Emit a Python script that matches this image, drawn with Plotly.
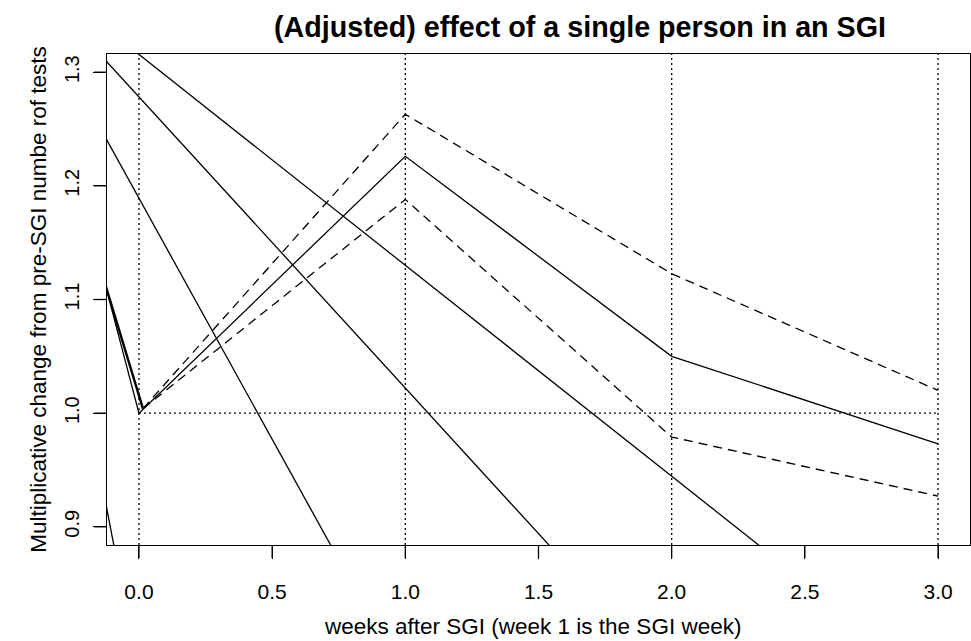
import plotly.graph_objects as go

# ---- data ----
weeks = [0, 1, 2, 3]
estimate = [1.0, 1.226, 1.05, 0.973]
upper_ci = [1.263, 1.1227, 1.020]
lower_ci = [1.188, 0.979, 0.927]
ci_weeks = [1, 2, 3]
ci_start_x = 0.015
ci_start_y = 1.004
estimate_prev_x = -1
estimate_prev_y = 1.894
thick_prev_y = 1.788

fan_origin_x = -0.53
fan_origin_y = 1.414
fan_end_x = [0, 1, 2, 3]
fan_end_y = [0.769, 0.765, 0.766, 0.759]

ref_level = 1.0
vlines = [0, 1, 2, 3]
xticks = [0.0, 0.5, 1.0, 1.5, 2.0, 2.5, 3.0]
xticklabels = ["0.0", "0.5", "1.0", "1.5", "2.0", "2.5", "3.0"]
yticks = [0.9, 1.0, 1.1, 1.2, 1.3]
yticklabels = ["0.9", "1.0", "1.1", "1.2", "1.3"]

FONT = "Liberation Sans, Arial, Helvetica, sans-serif"
LW = 1.3
W, H = 971, 641
L, R, T, B = 107, 1, 54, 96
TICKLEN = 13
PLOT_W = W - L - R
PLOT_H = H - T - B

fig = go.Figure()

# fan of straight lines
for ex, ey in zip(fan_end_x, fan_end_y):
    fig.add_trace(go.Scatter(x=[fan_origin_x, ex], y=[fan_origin_y, ey], mode="lines",
                             line=dict(color="black", width=LW), hoverinfo="skip"))

# thick left segment
fig.add_trace(go.Scatter(x=[estimate_prev_x, ci_start_x], y=[thick_prev_y, ci_start_y], mode="lines",
                         line=dict(color="black", width=2.4), hoverinfo="skip"))

# estimate
fig.add_trace(go.Scatter(x=[estimate_prev_x] + weeks, y=[estimate_prev_y] + estimate, mode="lines",
                         line=dict(color="black", width=LW), hoverinfo="skip"))

# confidence bounds
for ci in (upper_ci, lower_ci):
    fig.add_trace(go.Scatter(x=[ci_start_x] + ci_weeks, y=[ci_start_y] + ci, mode="lines",
                             line=dict(color="black", width=LW, dash="9px,6px"), hoverinfo="skip"))

# horizontal reference segment
fig.add_trace(go.Scatter(x=[vlines[0], vlines[-1]], y=[ref_level, ref_level], mode="lines",
                         line=dict(color="black", width=1.3, dash="2px,3px"), hoverinfo="skip"))

# vertical dotted lines
for v in vlines:
    fig.add_shape(type="line", xref="x", yref="paper", x0=v, x1=v, y0=0, y1=1,
                  line=dict(color="black", width=1.3, dash="2px,3px"))

# tick marks (outside), placed at the tick values through the axis scales
for t in xticks:
    fig.add_shape(type="line", xref="x", yref="paper", x0=t, x1=t,
                  y0=0, y1=-TICKLEN / PLOT_H, line=dict(color="black", width=1.3))
for t in yticks:
    fig.add_shape(type="line", xref="paper", yref="y", y0=t, y1=t,
                  x0=0, x1=-TICKLEN / PLOT_W, line=dict(color="black", width=1.3))

axis_common = dict(showgrid=False, zeroline=False, automargin=False,
                   showline=True, linecolor="black", linewidth=1, mirror=True,
                   ticks="outside", ticklen=TICKLEN, tickwidth=1, tickcolor="black",
                   showticklabels=True)

fig.update_layout(
    template="none",
    width=W, height=H,
    margin=dict(l=L, r=R, t=T, b=B, autoexpand=False),
    plot_bgcolor="white", paper_bgcolor="white",
    showlegend=False,
    font=dict(family=FONT, color="black"),
    title=dict(text="<b>(Adjusted) effect of a single person in an SGI</b>",
               x=580 / W, xanchor="center", xref="container",
               y=1 - 27 / H, yanchor="middle", yref="container",
               font=dict(size=28.7, family=FONT, color="black")),
    xaxis=dict(range=[-0.12, 3.12], tickmode="array", tickvals=xticks, ticktext=xticklabels,
               ticklabelstandoff=15,
               tickfont=dict(size=21, family=FONT, color="black"), **axis_common),
    yaxis=dict(range=[0.884, 1.316], tickmode="array", tickvals=yticks, ticktext=yticklabels,
               tickangle=-90, ticklabelstandoff=6,
               tickfont=dict(size=20, family=FONT, color="black"),
               title=dict(text="Multiplicative change from pre-SGI numbe rof tests",
                          font=dict(size=22.5, family=FONT, color="black"), standoff=8),
               **axis_common),
)

# x-axis label
fig.add_annotation(text="weeks after SGI (week 1 is the SGI week)",
                   xref="paper", yref="paper",
                   x=(532.7 - L) / PLOT_W, y=0, yshift=-81,
                   xanchor="center", yanchor="middle", showarrow=False,
                   font=dict(size=22.5, family=FONT, color="black"))

fig.write_html("out.html", config={"displayModeBar": False},
               post_script="document.body.style.margin='0px';")
